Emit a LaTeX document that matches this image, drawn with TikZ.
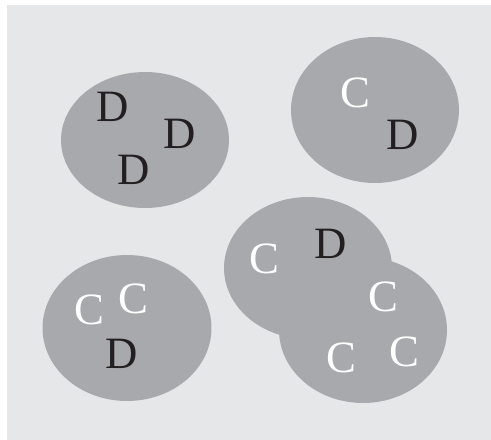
\documentclass[tikz,border=0pt]{standalone}
\usepackage{fontspec}
\setmainfont{Liberation Serif}
\usepackage{xcolor}
\usepackage{tikz}
\usetikzlibrary{shapes.geometric}
\definecolor{paper}{HTML}{E6E7E9}
\definecolor{blobgray}{HTML}{A7A9AC}
\definecolor{ink}{HTML}{231F20}
\tikzset{
  blob/.style = {ellipse, fill=blobgray, draw=none, inner sep=0pt,
                 minimum width=3.36cm, minimum height=2.92cm},
  dlet/.style = {inner sep=0pt, text=ink, font=\fontsize{25.5}{30}\selectfont},
  clet/.style = {inner sep=0pt, text=white, font=\fontsize{25.5}{30}\selectfont},
}
\begin{document}
\begin{tikzpicture}[x=0.02cm, y=-0.02cm]

  \useasboundingbox (0,0) rectangle (491,440);
  \fill[paper] (7,5) rectangle (491,440);

  % groups
  \node[blob, minimum height=2.72cm] (g1) at (145,140) {};
  \node[blob] (g2) at (375,110) {};
  \node[blob, minimum width=3.38cm] (g3) at (127,328) {};
  \node[blob, minimum height=2.84cm] (g4) at (308,268) {};
  \node[blob] (g5) at (363,330) {};

  % letters
  \node[dlet] (d1) at (113,107) {D};
  \node[dlet] (d2) at (180,134) {D};
  \node[dlet] (d3) at (134,170) {D};

  \node[clet] (c1) at (355,93) {C};
  \node[dlet] (d4) at (403,135) {D};

  \node[clet] (c2) at (89,310) {C};
  \node[clet] (c3) at (133,299) {C};
  \node[dlet] (d5) at (122,354) {D};

  \node[clet] (c4) at (264,259) {C};
  \node[dlet] (d6) at (331,244) {D};
  \node[clet] (c5) at (383,297) {C};
  \node[clet] (c6) at (341,358) {C};
  \node[clet] (c7) at (404,352) {C};

\end{tikzpicture}
\end{document}
